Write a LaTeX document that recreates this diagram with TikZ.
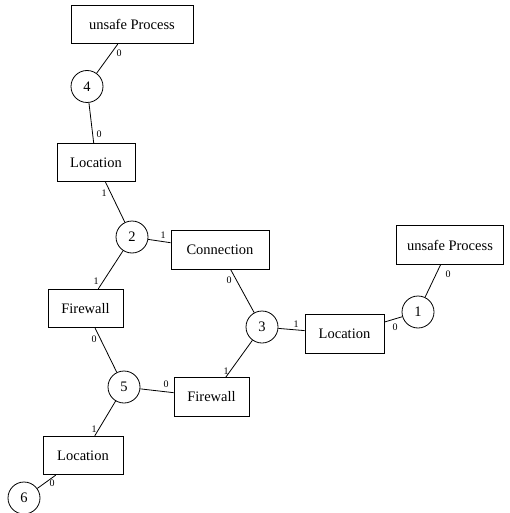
\documentclass[tikz,border=0pt]{standalone}
\usepackage{fontspec}
\setmainfont{Liberation Serif}
\begin{document}
\begin{tikzpicture}[x=1pt,y=-1pt,
  box/.style={draw,line width=0.8pt,rectangle,inner sep=0pt,minimum height=38.5pt,font=\fontsize{14.5}{16}\selectfont},
  circ/.style={draw,line width=0.8pt,circle,inner sep=0pt,minimum size=32pt,font=\fontsize{14.5}{16}\selectfont},
  lbl/.style={inner sep=0pt,font=\fontsize{10}{11}\selectfont},
  link/.style={line width=0.8pt}]
\useasboundingbox (0,0) rectangle (509,513);
% boxes
\node[box,minimum width=122pt] (up1) at (132,24.5) {unsafe Process};
\node[box,minimum width=78pt] (loc1) at (96,162.5) {Location};
\node[box,minimum width=98pt] (conn) at (220,250) {Connection};
\node[box,minimum width=107pt] (up2) at (450,245) {unsafe Process};
\node[box,minimum width=75pt] (fw1) at (85.5,308.5) {Firewall};
\node[box,minimum width=79pt] (loc2) at (344.5,334) {Location};
\node[box,minimum width=75pt] (fw2) at (211.5,397) {Firewall};
\node[box,minimum width=80pt] (loc3) at (83,455.5) {Location};
% circles
\node[circ] (c4) at (87,86.5) {4};
\node[circ] (c2) at (132,237) {2};
\node[circ] (c3) at (262,327) {3};
\node[circ] (c1) at (418,312) {1};
\node[circ] (c5) at (124,387) {5};
\node[circ] (c6) at (24,498) {6};
% connectors
\draw[link] (c4) -- (up1);
\draw[link] (c4) -- (loc1);
\draw[link] (loc1) -- (c2);
\draw[link] (c2) -- (conn);
\draw[link] (c2) -- (fw1);
\draw[link] (conn) -- (c3);
\draw[link] (c3) -- (loc2);
\draw[link] (c3) -- (fw2);
\draw[link] (loc2) -- (c1);
\draw[link] (c1) -- (up2);
\draw[link] (fw1) -- (c5);
\draw[link] (c5) -- (fw2);
\draw[link] (c5) -- (loc3);
\draw[link] (loc3) -- (c6);
% labels
\node[lbl] (l1) at (119,53) {0};
\node[lbl] (l2) at (99,134) {0};
\node[lbl] (l3) at (104,193) {1};
\node[lbl] (l4) at (163,235) {1};
\node[lbl] (l5) at (96,281) {1};
\node[lbl] (l6) at (229,280) {0};
\node[lbl] (l7) at (296,324) {1};
\node[lbl] (l8) at (226,371) {1};
\node[lbl] (l9) at (395,327) {0};
\node[lbl] (l10) at (448,274) {0};
\node[lbl] (l11) at (94,339) {0};
\node[lbl] (l12) at (166,384) {0};
\node[lbl] (l13) at (94,429) {1};
\node[lbl] (l14) at (52,483) {0};
\end{tikzpicture}
\end{document}
